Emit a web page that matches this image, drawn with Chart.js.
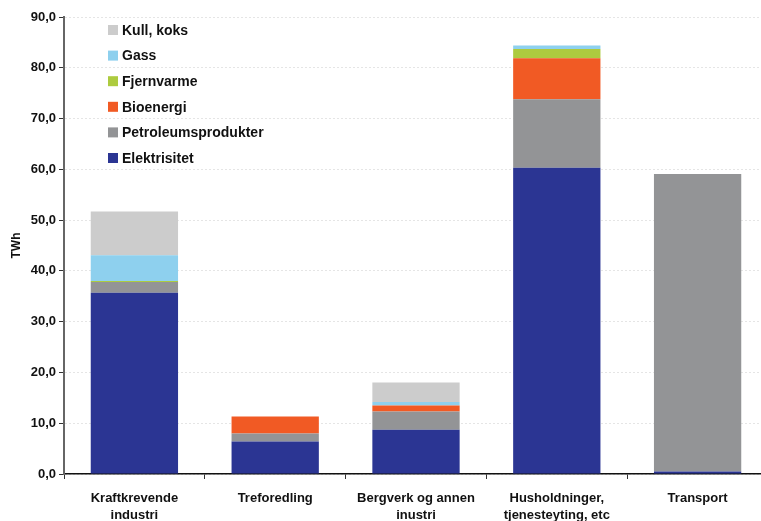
<!DOCTYPE html>
<html>
<head>
<meta charset="utf-8">
<script src="https://cdn.jsdelivr.net/npm/chart.js@4/dist/chart.umd.min.js"></script>
<style>
  html, body { margin: 0; padding: 0; background: #fff; overflow: hidden; }
  #wrap { width: 768px; height: 521px; }
</style>
</head>
<body>
<div id="wrap"><canvas id="energiChart"></canvas></div>
<script>
// Kategorier (to linjer der det trengs)
const kategorier = [
  ['Kraftkrevende', 'industri'],
  'Treforedling',
  ['Bergverk og annen', 'inustri'],
  ['Husholdninger,', 'tjenesteyting, etc'],
  'Transport'
];

// TWh per energibærer, lest av figuren
const elektrisitet = [35.7, 6.4, 8.7, 60.3, 0.5];
const petroleum    = [2.1, 1.6, 3.6, 13.5, 58.6];
const bioenergi    = [0, 3.3, 1.2, 8.1, 0];
const fjernvarme   = [0.2, 0, 0, 1.8, 0];
const gass         = [5.1, 0, 0.7, 0.7, 0];
const kullKoks     = [8.6, 0, 3.8, 0, 0];

const yTicks = [0, 10, 20, 30, 40, 50, 60, 70, 80, 90];

const font = "'Liberation Sans', Arial, sans-serif";

const serier = [
  { label: 'Elektrisitet', data: elektrisitet, backgroundColor: '#2b3593' },
  { label: 'Petroleumsprodukter', data: petroleum, backgroundColor: '#939496' },
  { label: 'Bioenergi', data: bioenergi, backgroundColor: '#f15a24' },
  { label: 'Fjernvarme', data: fjernvarme, backgroundColor: '#adcb3f' },
  { label: 'Gass', data: gass, backgroundColor: '#8ed0ee' },
  { label: 'Kull, koks', data: kullKoks, backgroundColor: '#cccccc' }
];

// egen legende inne i plottet, omvendt rekkefølge
const legendePlugin = {
  id: 'legende',
  afterDraw(chart) {
    const ctx = chart.ctx;
    const sets = chart.data.datasets.slice().reverse();
    ctx.save();
    ctx.font = 'bold 14px ' + font;
    ctx.textBaseline = 'middle';
    sets.forEach((ds, i) => {
      const y = 30 + i * 25.6;
      ctx.fillStyle = ds.backgroundColor;
      ctx.fillRect(108, y - 5, 10, 10);
      ctx.fillStyle = '#111';
      ctx.fillText(ds.label, 122, y + 1);
    });
    ctx.restore();
  }
};

new Chart(document.getElementById('energiChart'), {
  type: 'bar',
  data: {
    labels: kategorier,
    datasets: serier.map(s => Object.assign({
      barPercentage: 0.62,
      categoryPercentage: 1.0,
      borderWidth: 0
    }, s))
  },
  options: {
    responsive: true,
    maintainAspectRatio: false,
    animation: false,
    layout: { padding: { top: 17, right: 0, left: 0, bottom: 0 } },
    plugins: {
      legend: { display: false },
      tooltip: { enabled: false }
    },
    scales: {
      x: {
        stacked: true,
        offset: true,
        grid: {
          offset: true,
          drawOnChartArea: false,
          drawTicks: true,
          tickLength: 5,
          tickColor: '#333'
        },
        border: { color: '#111', width: 1.5 },
        ticks: {
          color: '#111',
          font: { family: font, size: 13, weight: 'bold', lineHeight: 1.3 },
          padding: 11,
          maxRotation: 0,
          autoSkip: false
        },
        afterFit(scale) { scale.height = 47; }
      },
      y: {
        stacked: true,
        min: 0,
        max: 90,
        afterBuildTicks(scale) { scale.ticks = yTicks.map(v => ({ value: v })); },
        grid: {
          color: 'rgba(0,0,0,0.1)',
          tickBorderDash: [],
          tickColor: '#333',
          tickLength: 5
        },
        border: { color: '#666', width: 2, dash: [2, 2] },
        ticks: {
          color: '#111',
          font: { family: font, size: 13, weight: 'bold' },
          padding: 3,
          callback: v => v.toFixed(1).replace('.', ',')
        },
        title: {
          display: true,
          text: 'TWh',
          color: '#111',
          font: { family: font, size: 12, weight: 'bold' },
          padding: { top: 9, bottom: 0 }
        },
        afterFit(scale) { scale.width = 64; }
      }
    }
  },
  plugins: [legendePlugin]
});
</script>
</body>
</html>
